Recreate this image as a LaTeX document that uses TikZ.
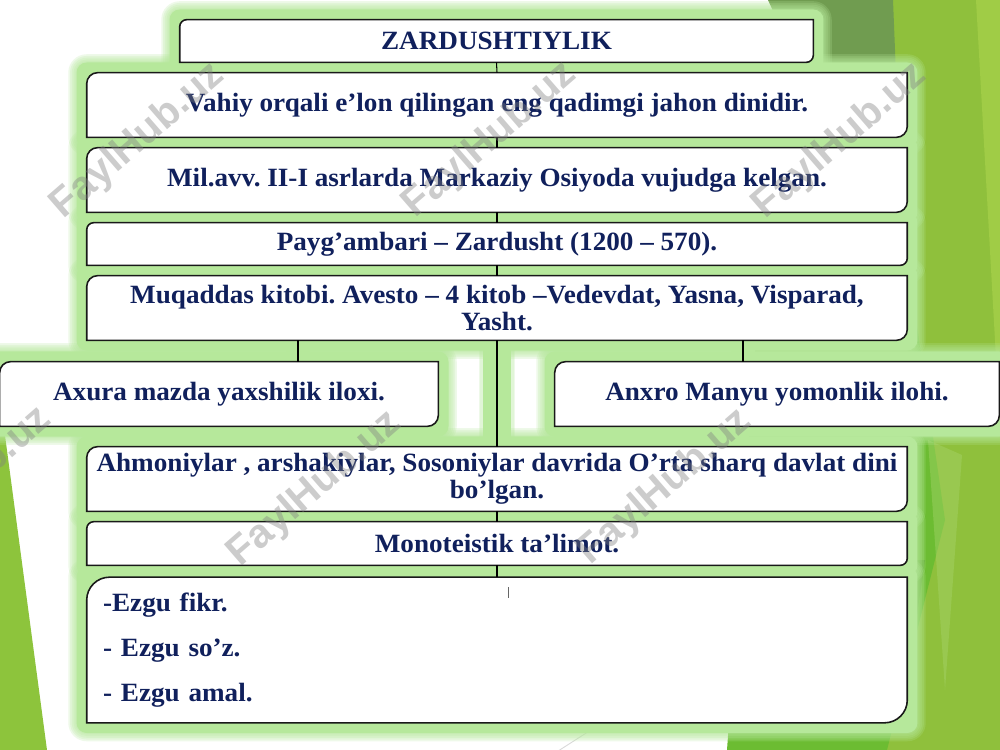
\documentclass[tikz,border=0pt]{standalone}
\usepackage{fontspec}
\setmainfont{Liberation Serif}[FakeStretch=1.03]
\newfontfamily\wmfont{Liberation Sans}
\usetikzlibrary{calc}
\frenchspacing
\definecolor{txt}{RGB}{16,32,92}
\definecolor{glowc}{RGB}{182,232,155}
\definecolor{ygreen}{RGB}{143,192,60}
\definecolor{bgreen}{RGB}{108,188,50}
\definecolor{ggreen}{RGB}{112,156,80}
\definecolor{lgreen}{RGB}{160,204,70}
\definecolor{pgreen}{RGB}{170,213,110}
\definecolor{dgreen}{RGB}{85,155,45}
\definecolor{lftgreen}{RGB}{141,196,60}
\pgfdeclarelayer{bgshapes}
\pgfdeclarelayer{glow}
\pgfdeclarelayer{boxes}
\pgfsetlayers{bgshapes,glow,boxes,main}
\newcommand\px{0.5690551pt}
\tikzset{
  box/.style n args={2}{rectangle, inner sep=0pt, minimum width=#1*\px,
    minimum height=#2*\px, text=txt, align=center,
    font=\fontsize{15}{15.4}\selectfont\bfseries},
  boxline/.style={draw=black!90, line width=0.9pt, fill=white},
  conn/.style={draw=black, line width=0.6pt},
  glowlayer/.style={glowc, opacity=0.22},
  wm/.style={font=\wmfont\bfseries\fontsize{23}{23}\selectfont, text=gray, opacity=0.4, inner sep=0pt}
}
\newcommand\drawbox[2]{%
  \begin{pgfonlayer}{boxes}
  \filldraw[boxline] (#1.south west) -- ([yshift=-#2pt]#1.north west)
    arc[start angle=180,end angle=90,radius=#2pt] -- (#1.north east)
    -- ([yshift=#2pt]#1.south east)
    arc[start angle=0,end angle=-90,radius=#2pt] -- cycle;
  \end{pgfonlayer}}
\newcommand\glowbox[1]{%
  \begin{pgfonlayer}{glow}
  \foreach \d in {10.5,9.5,8.5,7.5,6.5}{%
    \fill[glowlayer, rounded corners=\d pt] ([shift={(-\d pt,\d pt)}]#1.north west) rectangle ([shift={(\d pt,-\d pt)}]#1.south east);}
  \fill[glowc, rounded corners=5.8pt] ([shift={(-5.8pt,5.8pt)}]#1.north west) rectangle ([shift={(5.8pt,-5.8pt)}]#1.south east);
  \end{pgfonlayer}}
\begin{document}
\begin{tikzpicture}[x=0.02cm,y=-0.02cm]
\useasboundingbox (0,0) rectangle (1000,750);
% background
\begin{pgfonlayer}{bgshapes}
\fill[white] (0,0) rectangle (1000,750);
\fill[ygreen] (870,0) -- (1000,0) -- (1000,750) -- (887,750) -- cycle;
\fill[bgreen] (780,0) -- (870,0) -- (945,520) -- (887,750) -- (727,750) -- cycle;
\fill[ggreen] (768,0) -- (893,0) -- (905,300) -- cycle;
\fill[lgreen] (976,0) -- (1000,0) -- (1000,430) -- cycle;
\fill[pgreen, opacity=0.4] (928,440) -- (962,455) -- (945,690) -- cycle;
\fill[dgreen, opacity=0.5] (907,560) -- (925,560) -- (912,650) -- cycle;
\fill[lftgreen] (0,428) -- (4,428) -- (47,750) -- (0,750) -- cycle;
\draw[black!15, line width=0.5pt] (555,753) -- (700,660);
\end{pgfonlayer}
% nodes
\node[box={633}{42}] (title) at (496.5,41) {ZARDUSHTIYLIK};
\node[box={820}{64}] (b2) at (497,105) {Vahiy orqali e’lon qilingan eng qadimgi jahon dinidir.};
\node[box={820}{64}] (b3) at (497,180) {Mil.avv. II-I asrlarda Markaziy Osiyoda vujudga kelgan.};
\node[box={820}{42}] (b4) at (497,244) {Payg’ambari – Zardusht (1200 – 570).};
\node[box={820}{64}] (b5) at (497,308) {Muqaddas kitobi. Avesto – 4 kitob –Vedevdat, Yasna, Visparad,\\ Yasht.};
\node[box={438}{64}] (b6) at (219,394) {Axura mazda yaxshilik iloxi.};
\node[box={444}{64}] (b7) at (777,394) {Anxro Manyu yomonlik ilohi.};
\node[box={820}{64}] (b8) at (497,479) {Ahmoniylar , arshakiylar, Sosoniylar davrida O’rta sharq davlat dini\\ bo’lgan.};
\node[box={820}{43}] (b9) at (497,543.5) {Monoteistik ta’limot.};
\node[box={820}{145}, align=left, text width=448.4pt, inner xsep=9.1pt,
      font=\fontsize{15}{25.5}\selectfont\bfseries] (b10) at (497,650)
      {-Ezgu fikr.\\ - Ezgu so’z.\\ - Ezgu amal.};
% glows
\foreach \n in {title,b2,b3,b4,b5,b6,b7,b8,b9,b10}{\glowbox{\n}}
\coordinate (lx) at (298,350);
\coordinate (rx) at (743,350);
\begin{pgfonlayer}{glow}
\draw[glowlayer, line width=21pt] (b5.south) -- (b8.north);
\draw[glowlayer, line width=19pt] (b5.south) -- (b8.north);
\draw[glowc, line width=16pt] (b5.south) -- (b8.north);
\draw[glowc, line width=14pt] (lx|-b5.south) -- (lx|-b6.north);
\draw[glowc, line width=14pt] (rx|-b5.south) -- (rx|-b7.north);
\end{pgfonlayer}
% boxes
\drawbox{title}{4}
\drawbox{b2}{6.2}
\drawbox{b3}{6.2}
\drawbox{b4}{4}
\drawbox{b5}{6.2}
\drawbox{b6}{6.2}
\drawbox{b7}{6.2}
\drawbox{b8}{6.2}
\drawbox{b9}{4}
\drawbox{b10}{13}
% connectors
\draw[conn] (title.south) -- (b2.north);
\draw[conn] (b2.south) -- (b3.north);
\draw[conn] (b3.south) -- (b4.north);
\draw[conn] (b4.south) -- (b5.north);
\draw[conn] (b5.south) -- (b8.north);
\draw[conn] (lx|-b5.south) -- (lx|-b6.north);
\draw[conn] (rx|-b5.south) -- (rx|-b7.north);
\draw[conn] (b8.south) -- (b9.north);
\draw[conn] (b9.south) -- (b10.north);
\coordinate (m1) at (508.5,587);
\coordinate (m2) at (508.5,598);
\draw[line width=0.6pt, black!60] (m1) -- (m2);
% watermarks
\node[wm, rotate=41] (w1) at (138,141) {FaylHub.uz};
\node[wm, rotate=41] (w2) at (490,140) {FaylHub.uz};
\node[wm, rotate=41] (w3) at (840,141) {FaylHub.uz};
\node[wm, rotate=41] (w4) at (-35,485) {FaylHub.uz};
\node[wm, rotate=41] (w5) at (315,489) {FaylHub.uz};
\node[wm, rotate=41] (w6) at (665,487) {FaylHub.uz};
\end{tikzpicture}
\end{document}
